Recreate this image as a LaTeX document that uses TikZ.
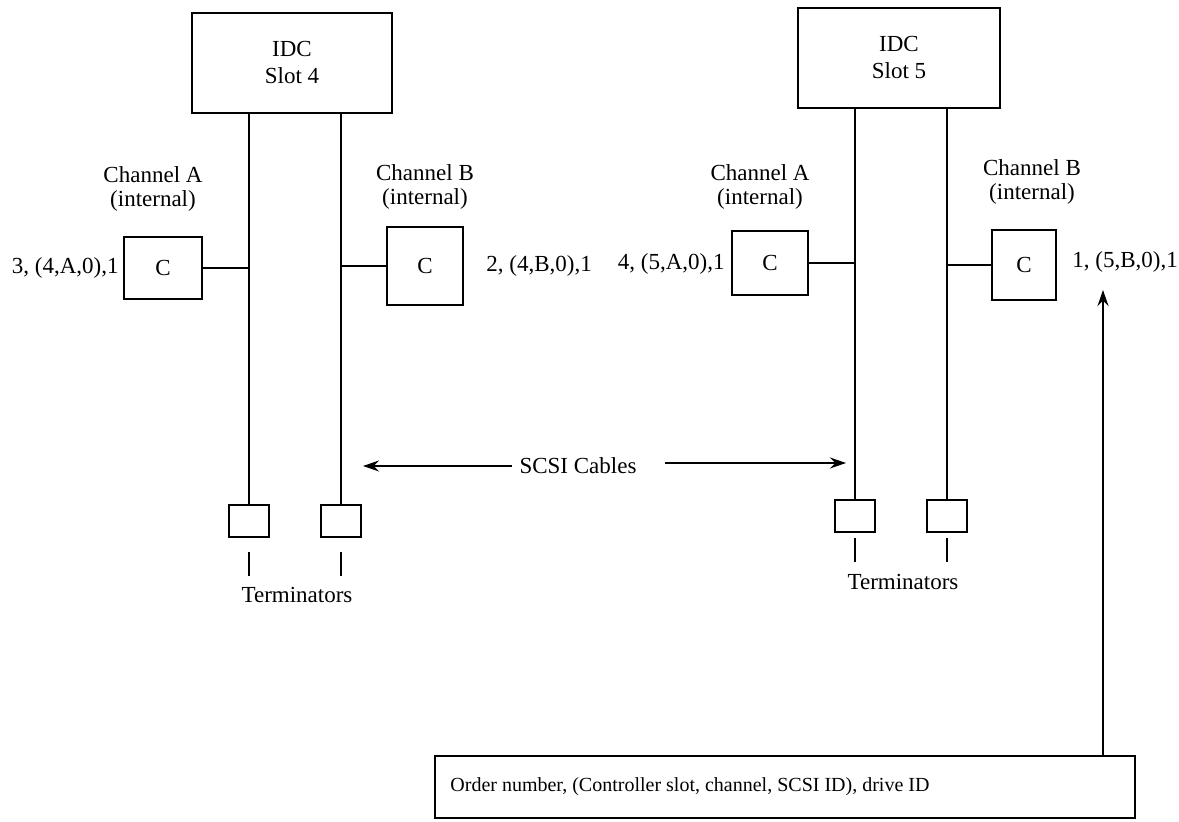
\documentclass[tikz,border=0pt]{standalone}
\usepackage{fontspec}
\setmainfont{Liberation Serif}
\usetikzlibrary{arrows.meta}
\begin{document}
\begin{tikzpicture}[x=0.5pt,y=-0.5pt,
  box/.style={draw, line width=0.9pt, inner sep=0pt, outer sep=0pt, align=center},
  lbl/.style={inner sep=0pt, align=center},
  wire/.style={line width=0.8pt},
  arr/.style={line width=0.8pt, -{Stealth[length=8pt,width=5.5pt]}},
  every node/.style={font=\fontsize{11.5}{12}\selectfont}]
\useasboundingbox[fill=white] (0,0) rectangle (1179,822);
% controllers
\node[box, minimum width=100pt, minimum height=50pt, font=\fontsize{11.5}{13.5}\selectfont] (idc4) at (292,63) {IDC\\Slot 4};
\node[box, minimum width=101pt, minimum height=50pt, font=\fontsize{11.5}{13.5}\selectfont] (idc5) at (899,58) {IDC\\Slot 5};
% drives
\node[box, minimum width=39pt, minimum height=31pt] (ca4) at (163,268) {C};
\node[box, minimum width=38pt, minimum height=39pt] (cb4) at (425,266) {C};
\node[box, minimum width=38pt, minimum height=32pt] (ca5) at (770,263) {C};
\node[box, minimum width=32pt, minimum height=35pt] (cb5) at (1024,265) {C};
% channel labels
\node[lbl] (cha4) at (153,189) {Channel A\\(internal)};
\node[lbl] (chb4) at (425,187) {Channel B\\(internal)};
\node[lbl] (cha5) at (760,187) {Channel A\\(internal)};
\node[lbl] (chb5) at (1032,182) {Channel B\\(internal)};
% drive labels
\node[lbl, anchor=east] (la4) at (119,268) {3, (4,A,0),1};
\node[lbl, anchor=west] (lb4) at (486,266) {2, (4,B,0),1};
\node[lbl, anchor=east] (la5) at (725,264) {4, (5,A,0),1};
\node[lbl, anchor=west] (lb5) at (1072,262) {1, (5,B,0),1};
% terminators
\node[box, minimum width=20pt, minimum height=16pt] (t1) at (249,521) {};
\node[box, minimum width=20pt, minimum height=16pt] (t2) at (341,521) {};
\node[box, minimum width=20pt, minimum height=16pt] (t3) at (855,516) {};
\node[box, minimum width=20pt, minimum height=16pt] (t4) at (947,516) {};
\node[lbl] (term4) at (297,595) {Terminators};
\node[lbl] (term5) at (903,582) {Terminators};
% buses
\draw[wire] (idc4.south -| t1.north) -- (t1.north);
\draw[wire] (idc4.south -| t2.north) -- (t2.north);
\draw[wire] (idc5.south -| t3.north) -- (t3.north);
\draw[wire] (idc5.south -| t4.north) -- (t4.north);
\draw[wire] (ca4.east) -- (ca4.east -| t1.north);
\draw[wire] (cb4.west) -- (cb4.west -| t2.north);
\draw[wire] (ca5.east) -- (ca5.east -| t3.north);
\draw[wire] (cb5.west) -- (cb5.west -| t4.north);
% terminator ticks
\draw[wire] ([yshift=-7.5pt]t1.south) -- ++(0,24);
\draw[wire] ([yshift=-7.5pt]t2.south) -- ++(0,24);
\draw[wire] ([yshift=-3pt]t3.south) -- ++(0,24);
\draw[wire] ([yshift=-3pt]t4.south) -- ++(0,24);
% SCSI cables
\node[lbl] (scsi) at (578,466) {SCSI Cables};
\coordinate (l1) at (512,466);
\coordinate (l2) at (363,466);
\coordinate (r1) at (665,463);
\coordinate (r2) at (846,463);
\draw[arr] (l1) -- (l2);
\draw[arr] (r1) -- (r2);
% legend
\node[box, minimum width=350pt, minimum height=31pt] (legend) at (785,787) {};
\node[lbl, anchor=west, font=\fontsize{10}{12}\selectfont] (legtext) at (450,787) {Order number, (Controller slot, channel, SCSI ID), drive ID};
\coordinate (up) at (1103,290);
\draw[arr] (legend.north -| up) -- (up);
\end{tikzpicture}
\end{document}
